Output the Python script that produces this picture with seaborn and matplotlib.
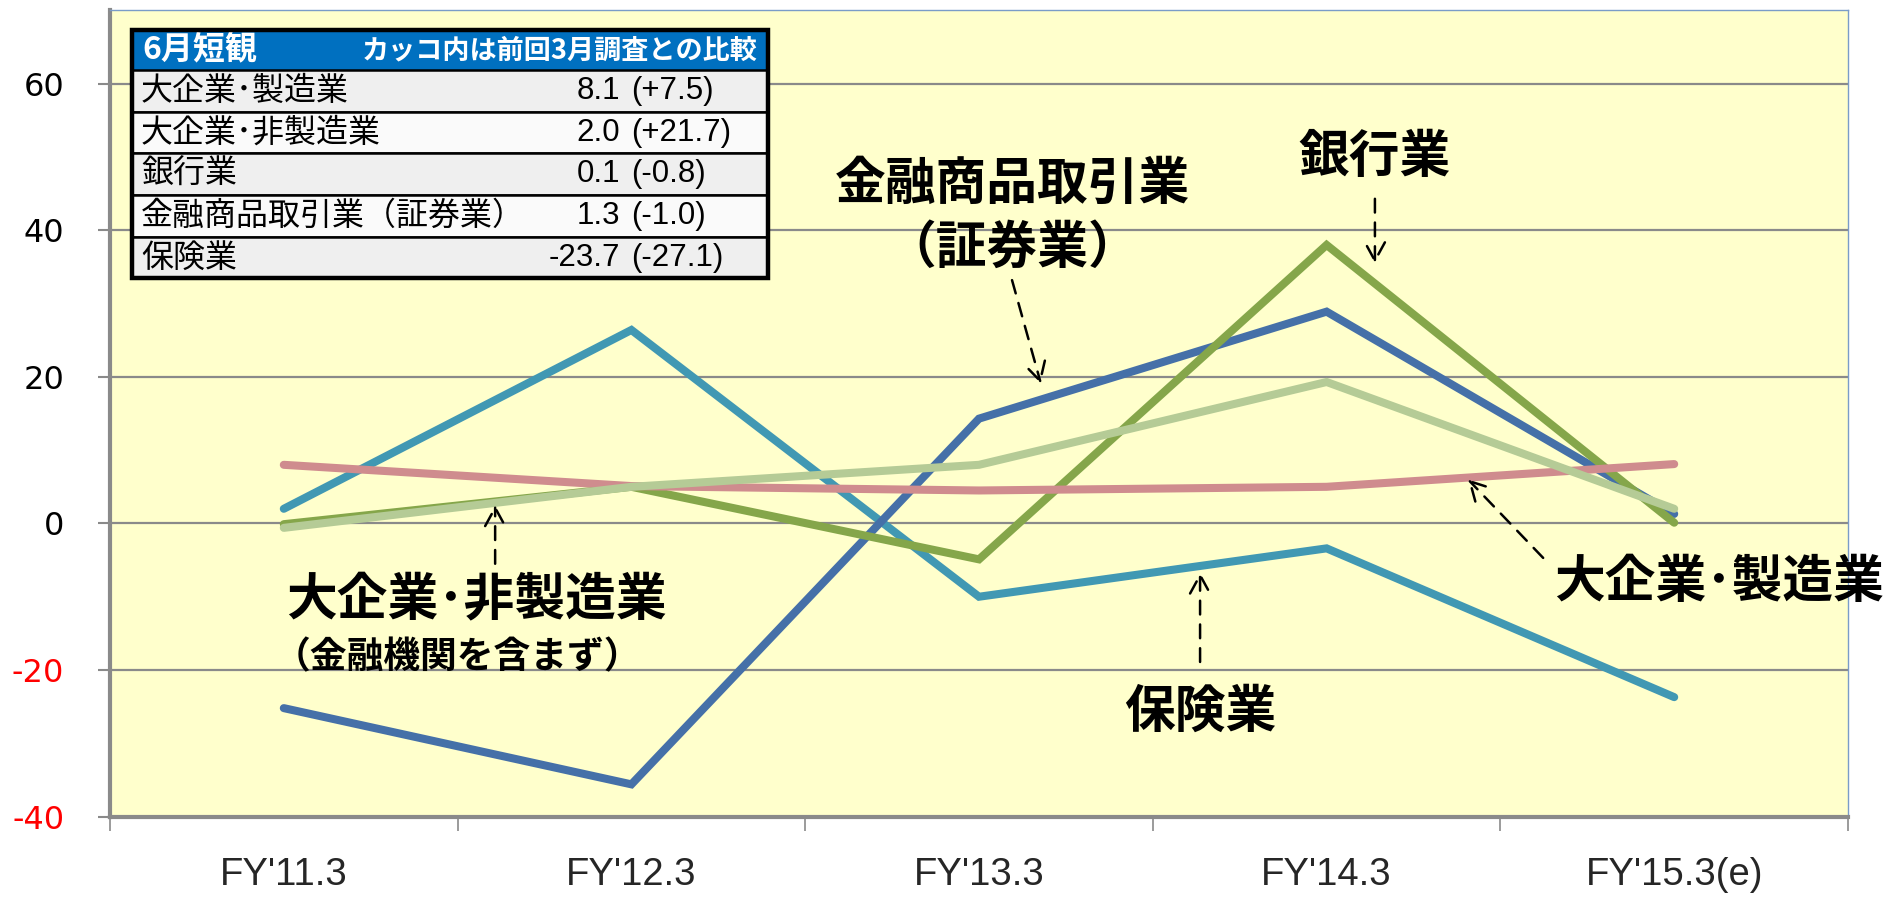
import matplotlib
matplotlib.use("Agg")
import matplotlib.pyplot as plt
from matplotlib.patches import Rectangle
import seaborn as sns
import pandas as pd
import numpy as np

# ---------------- data ----------------
periods = ["FY'11.3", "FY'12.3", "FY'13.3", "FY'14.3", "FY'15.3(e)"]
series_names = ["保険業", "金融商品取引業", "銀行業", "大企業･製造業", "大企業･非製造業"]
insurance = [2.0, 26.4, -10.0, -3.4, -23.7]
securities = [-25.2, -35.6, 14.3, 28.9, 1.3]
banking = [-0.1, 5.0, -4.9, 38.0, 0.1]
manufacturing = [8.0, 5.1, 4.5, 5.0, 8.1]
non_manufacturing = [-0.6, 5.0, 8.0, 19.3, 2.0]
yticks = [-40, -20, 0, 20, 40, 60]

table_title = "6月短観"
table_note = "カッコ内は前回3月調査との比較"
table_labels = ["大企業･製造業", "大企業･非製造業", "銀行業", "金融商品取引業（証券業）", "保険業"]
table_values = ["8.1", "2.0", "0.1", "1.3", "-23.7"]
table_changes = ["(+7.5)", "(+21.7)", "(-0.8)", "(-1.0)", "(-27.1)"]

colors = {
    "保険業": "#4198B3",
    "金融商品取引業": "#4570A8",
    "銀行業": "#85A64A",
    "大企業･製造業": "#CF8C8E",
    "大企業･非製造業": "#B5CB96",
}

values_by_series = {
    "保険業": insurance,
    "金融商品取引業": securities,
    "銀行業": banking,
    "大企業･製造業": manufacturing,
    "大企業･非製造業": non_manufacturing,
}
rows = []
for name in series_names:
    for i, v in enumerate(values_by_series[name]):
        rows.append({"x": i, "value": v, "series": name})
df = pd.DataFrame(rows)

# ---------------- style ----------------
sns.set_theme(style="white")
CJK = ["Noto Sans CJK JP", "DejaVu Sans"]
LAT = ["Liberation Sans", "DejaVu Sans"]
plt.rcParams["font.family"] = CJK

W, H = 1894, 897
fig = plt.figure(figsize=(W / 100, H / 100), dpi=100)
fig.patch.set_facecolor("white")

def fx(px):
    return px / W

def fy(py):
    return 1 - py / H

ax_left, ax_right, ax_top, ax_bottom = 110, 1848, 9.7, 816.6
ax = fig.add_axes([fx(ax_left), fy(ax_bottom), fx(ax_right - ax_left), (ax_bottom - ax_top) / H])
ax.set_facecolor("#FFFFCC")

for name in series_names:
    sub = df[df["series"] == name]
    sns.lineplot(data=sub, x="x", y="value", ax=ax, color=colors[name],
                 linewidth=5.8, sort=False, legend=False, zorder=3,
                 solid_joinstyle="miter", solid_capstyle="round")

ax.set_xlim(-0.5, len(periods) - 0.5)
ax.set_ylim(-40, 70.1)
ax.set_xlabel("")
ax.set_ylabel("")

# grid lines
for t in yticks[1:]:
    ax.axhline(t, color="#8A8A8A", linewidth=1.6, zorder=1)

# spines
for s in ["top", "right"]:
    ax.spines[s].set_color("#7A9CC8")
    ax.spines[s].set_linewidth(1.0)
ax.spines["left"].set_color("#8A8A8A")
ax.spines["left"].set_linewidth(3)
ax.spines["bottom"].set_color("#8A8A8A")
ax.spines["bottom"].set_linewidth(3)

# y ticks
ax.set_yticks(yticks)
ax.set_yticklabels([str(t) for t in yticks])
ax.tick_params(axis="y", which="major", direction="out", length=9, width=1.5,
               color="#8A8A8A", pad=24, labelsize=23, left=True)
for lbl, t in zip(ax.get_yticklabels(), yticks):
    lbl.set_color("red" if t < 0 else "black")
    lbl.set_family(["DejaVu Sans"])

# x ticks: labels at centres, tick marks at boundaries
ax.set_xticks(range(len(periods)))
ax.set_xticklabels(periods)
ax.set_xticks(np.arange(-0.5, len(periods), 1.0), minor=True)
ax.tick_params(axis="x", which="major", length=0, pad=29, labelsize=27.5, bottom=True)
ax.tick_params(axis="x", which="minor", direction="out", length=10, width=1.2,
               color="#8A8A8A", bottom=True)
for lbl in ax.get_xticklabels():
    lbl.set_family(LAT)

# ---------------- annotations ----------------
big = dict(fontsize=36.5, fontweight="bold", color="black", family=CJK, zorder=6)
ax.text(2.095, 46.3, "金融商品取引業", ha="center", va="center", **big)
ax.text(2.095, 37.6, "（証券業）", ha="center", va="center", **big)
ax.text(3.139, 50.0, "銀行業", ha="center", va="center", **big)
ax.text(0.006, -10.4, "大企業･非製造業", ha="left", va="center", **big)
ax.text(-0.03, -18.3, "（金融機関を含まず）", ha="left", va="center",
        fontsize=26.5, fontweight="bold", color="black", family=CJK, zorder=6)
ax.text(2.636, -25.8, "保険業", ha="center", va="center", **big)
ax.text(4.129, -8.1, "大企業･製造業", ha="center", va="center", clip_on=False, **big)

arrowprops = dict(arrowstyle="->,head_length=1.1,head_width=0.6", color="black",
                  linestyle=(0, (5.5, 4)), linewidth=1.8, shrinkA=0, shrinkB=0)
arrows = [
    ((2.095, 33.2), (2.178, 19.1)),
    ((3.139, 44.3), (3.139, 35.5)),
    ((0.608, -5.5), (0.608, 2.5)),
    ((2.636, -18.9), (2.636, -6.7)),
    ((3.623, -4.7), (3.407, 6.0)),
]
for start, end in arrows:
    ax.annotate("", xy=end, xytext=start, arrowprops=arrowprops, zorder=6)

# ---------------- inset table ----------------
t_left, t_right = 132, 768
t_top, head_bottom = 30, 70
row_h = 41.7
t_bottom = head_bottom + row_h * len(table_labels)

fig.patches.append(Rectangle((fx(t_left), fy(head_bottom)), fx(t_right - t_left),
                             (head_bottom - t_top) / H, transform=fig.transFigure,
                             facecolor="#0070C0", edgecolor="none", zorder=10))
fig.text(fx(142), fy((t_top + head_bottom) / 2), table_title, ha="left", va="center",
         fontsize=23, fontweight="bold", color="white", family=CJK, zorder=12)
fig.text(fx(758), fy((t_top + head_bottom) / 2), table_note, ha="right", va="center",
         fontsize=19.5, fontweight="bold", color="white", family=CJK, zorder=12)

for i, (lab, val, chg) in enumerate(zip(table_labels, table_values, table_changes)):
    top = head_bottom + i * row_h
    fc = "#EFEFEF" if i % 2 == 0 else "#FAFAFA"
    fig.patches.append(Rectangle((fx(t_left), fy(top + row_h)), fx(t_right - t_left),
                                 row_h / H, transform=fig.transFigure,
                                 facecolor=fc, edgecolor="black", linewidth=1.8, zorder=10))
    cy = fy(top + row_h / 2)
    fig.text(fx(141), cy, lab, ha="left", va="center", fontsize=23,
             color="black", family=CJK, zorder=12)
    fig.text(fx(620), cy, val, ha="right", va="center", fontsize=22.5,
             color="black", family=LAT, zorder=12)
    fig.text(fx(631), cy, chg, ha="left", va="center", fontsize=22.5,
             color="black", family=LAT, zorder=12)

# outer thick border
fig.patches.append(Rectangle((fx(t_left), fy(t_bottom)), fx(t_right - t_left),
                             (t_bottom - t_top) / H, transform=fig.transFigure,
                             facecolor="none", edgecolor="black", linewidth=3.2, zorder=13))

fig.savefig("out.png", dpi=100, facecolor="white")
